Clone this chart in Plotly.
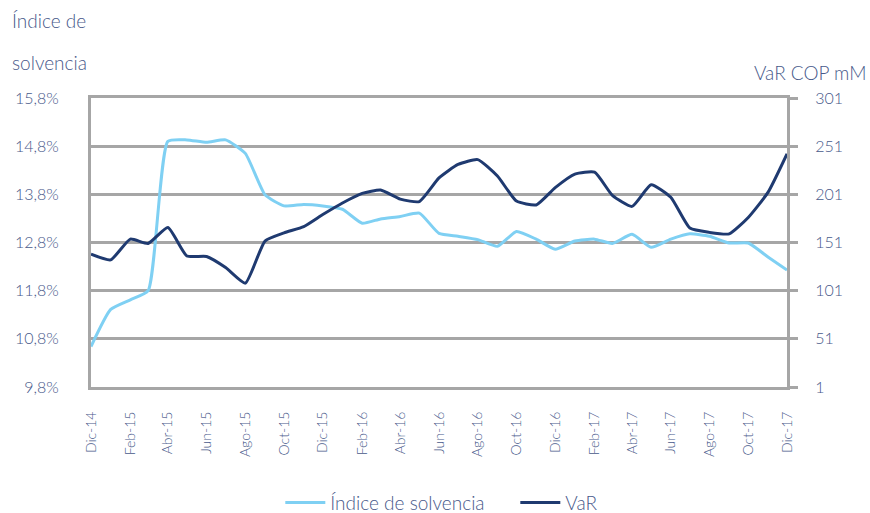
import plotly.graph_objects as go

# Monthly points, Dic-14 .. Dic-17
months = [
    "2014-12", "2015-01", "2015-02", "2015-03", "2015-04", "2015-05", "2015-06",
    "2015-07", "2015-08", "2015-09", "2015-10", "2015-11", "2015-12",
    "2016-01", "2016-02", "2016-03", "2016-04", "2016-05", "2016-06",
    "2016-07", "2016-08", "2016-09", "2016-10", "2016-11", "2016-12",
    "2017-01", "2017-02", "2017-03", "2017-04", "2017-05", "2017-06",
    "2017-07", "2017-08", "2017-09", "2017-10", "2017-11", "2017-12",
]
dates = [m + "-01" for m in months]

solvencia = [
    10.64, 11.41, 11.61, 11.80, 14.90, 14.93, 14.88,
    14.93, 14.65, 13.79, 13.56, 13.59, 13.56,
    13.49, 13.20, 13.29, 13.34, 13.41, 12.99,
    12.93, 12.86, 12.72, 13.03, 12.87, 12.66,
    12.83, 12.87, 12.78, 12.97, 12.70, 12.87,
    12.98, 12.93, 12.79, 12.79, 12.50, 12.23,
]

var_cop = [
    139, 133, 154.5, 150, 166.5, 137, 136.5,
    125, 108.8, 152.5, 161, 167.5, 180,
    192, 202, 205.5, 196, 193.5, 218,
    232, 237, 220, 194, 190, 208,
    222, 224, 200, 188.5, 211, 198,
    166, 161.5, 160, 177, 203, 243,
]

tick_dates = dates[::2]
tick_labels = [
    "Dic-14", "Feb-15", "Abr-15", "Jun-15", "Ago-15", "Oct-15", "Dic-15",
    "Feb-16", "Abr-16", "Jun-16", "Ago-16", "Oct-16", "Dic-16",
    "Feb-17", "Abr-17", "Jun-17", "Ago-17", "Oct-17", "Dic-17",
]

TEXT = "#48598a"
GRID = "#a6a6a6"
LIGHT = "#7fd0f3"
DARK = "#1f3a70"
FONT = "Lato"

fig = go.Figure()

fig.add_trace(go.Scatter(
    name="Índice de solvencia",
    x=dates,
    y=solvencia,
    mode="lines",
    line=dict(color=LIGHT, width=3, shape="spline", smoothing=0.5),
    yaxis="y",
))

fig.add_trace(go.Scatter(
    name="VaR",
    x=dates,
    y=var_cop,
    mode="lines",
    line=dict(color=DARK, width=3, shape="spline", smoothing=0.5),
    yaxis="y2",
))

fig.update_layout(
    width=870,
    height=513,
    margin=dict(l=91, r=83, t=98, b=126),
    paper_bgcolor="white",
    plot_bgcolor="white",
    separators=",.",
    font=dict(family=FONT, color=TEXT, size=16, weight=300),
    xaxis=dict(
        type="date",
        automargin=False,
        range=[dates[0], dates[-1]],
        tickvals=tick_dates,
        ticktext=tick_labels,
        tickangle=-90,
        tickfont=dict(size=14, color=TEXT, family=FONT, weight=300),
        showgrid=False,
        showline=True,
        linecolor=GRID,
        linewidth=3,
        mirror=True,
        ticks="",
        ticklabelstandoff=16,
    ),
    yaxis=dict(
        automargin=False,
        range=[9.8, 15.8],
        tick0=9.8,
        dtick=1,
        tickformat=".1f",
        ticksuffix="%",
        showgrid=True,
        gridcolor=GRID,
        gridwidth=2.5,
        showline=True,
        linecolor=GRID,
        linewidth=3,
        zeroline=False,
        ticks="",
        ticklabelstandoff=26,
        tickfont=dict(size=16, color=TEXT, family=FONT, weight=300),
    ),
    yaxis2=dict(
        automargin=False,
        range=[1, 301],
        tick0=1,
        dtick=50,
        overlaying="y",
        side="right",
        showgrid=False,
        zeroline=False,
        showline=True,
        linecolor=GRID,
        linewidth=3,
        ticks="outside",
        ticklen=8,
        tickcolor=GRID,
        tickwidth=2.5,
        ticklabelstandoff=14,
        tickfont=dict(size=16, color=TEXT, family=FONT, weight=300),
    ),
    legend=dict(
        orientation="h",
        x=0.272,
        xanchor="left",
        yref="container",
        y=0.02,
        yanchor="middle",
        font=dict(size=19, color=TEXT, family=FONT, weight=300),
        entrywidth=180,
        itemwidth=40,
    ),
    showlegend=True,
)

fig.add_annotation(
    text="Índice de", xref="paper", yref="paper",
    x=0, y=1.0, xanchor="left", yanchor="middle",
    xshift=-81, yshift=78, showarrow=False,
    font=dict(size=19, color=TEXT, family=FONT, weight=300),
)
fig.add_annotation(
    text="solvencia", xref="paper", yref="paper",
    x=0, y=1.0, xanchor="left", yanchor="middle",
    xshift=-81, yshift=36, showarrow=False,
    font=dict(size=19, color=TEXT, family=FONT, weight=300),
)
fig.add_annotation(
    text="VaR COP mM", xref="paper", yref="paper",
    x=1.0, y=1.0, xanchor="right", yanchor="middle",
    xshift=81, yshift=26, showarrow=False,
    font=dict(size=19, color=TEXT, family=FONT, weight=300),
)

# the page's default 8px body margin would push the chart off the window
fig.write_html(
    "out.html",
    config={"displayModeBar": False},
    post_script="document.body.style.margin='0px';",
)
